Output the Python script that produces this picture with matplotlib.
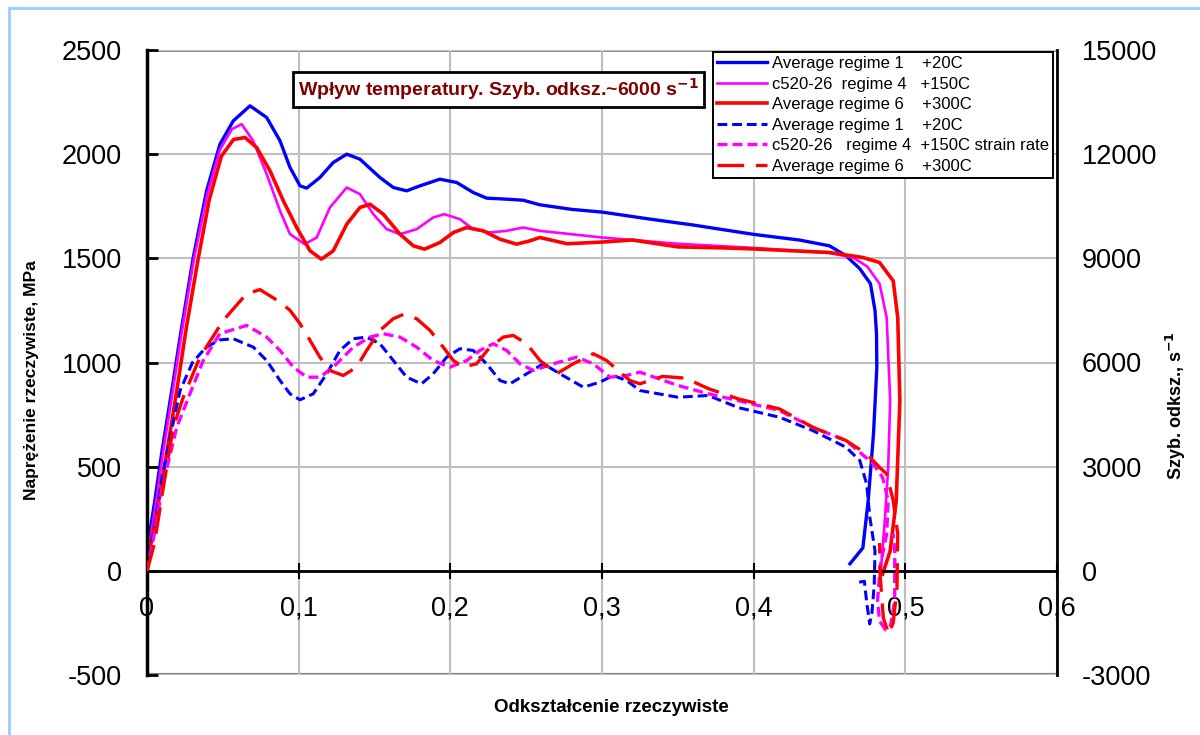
import matplotlib
matplotlib.use("Agg")
import matplotlib.pyplot as plt
from matplotlib.patches import Rectangle
from matplotlib.ticker import FuncFormatter

plt.rcParams['font.family'] = ['Liberation Sans', 'DejaVu Sans']
plt.rcParams['axes.unicode_minus'] = False

# naprezenie (MPa) vs odksztalcenie
blue_x = [0.0, 0.005, 0.010, 0.0163, 0.022, 0.0305, 0.0393, 0.0481, 0.0569, 0.0679,
          0.0789, 0.0877, 0.0943, 0.1009, 0.1053, 0.114, 0.1228, 0.1317, 0.1404, 0.1536,
          0.1624, 0.1712, 0.18, 0.1931, 0.2042, 0.2151, 0.2239, 0.2371, 0.248, 0.259,
          0.28, 0.30, 0.33, 0.36, 0.40, 0.43, 0.45, 0.461, 0.470, 0.477, 0.480, 0.481,
          0.4812, 0.480, 0.479, 0.4755, 0.472, 0.4635]
blue_y = [100, 330, 580, 864, 1130, 1504, 1824, 2048, 2160, 2232,
          2176, 2064, 1936, 1848, 1837, 1888, 1960, 2000, 1976, 1888,
          1840, 1824, 1848, 1880, 1864, 1816, 1789, 1784, 1779, 1757,
          1735, 1722, 1690, 1660, 1615, 1588, 1560, 1512, 1450, 1378, 1250, 1138,
          976, 800, 657, 336, 110, 34]

mag_x = [0.0, 0.005, 0.010, 0.017, 0.023, 0.031, 0.0395, 0.048, 0.056, 0.0624, 0.070,
         0.0789, 0.0877, 0.0943, 0.104, 0.1119, 0.1206, 0.1317, 0.1404, 0.1492, 0.158,
         0.1668, 0.1778, 0.1887, 0.196, 0.2063, 0.2151, 0.226, 0.2371, 0.248, 0.259,
         0.30, 0.35, 0.40, 0.45, 0.4655, 0.475, 0.483, 0.4877, 0.490, 0.4887, 0.4866, 0.484]
mag_y = [60, 280, 540, 864, 1150, 1500, 1800, 2020, 2120, 2144, 2064,
         1904, 1728, 1616, 1568, 1600, 1744, 1840, 1808, 1712, 1640,
         1616, 1640, 1696, 1712, 1688, 1640, 1624, 1632, 1648, 1632,
         1600, 1570, 1550, 1526, 1504, 1460, 1378, 1216, 816, 496, 256, 16]

red_x = [0.0, 0.006, 0.012, 0.0196, 0.026, 0.0338, 0.041, 0.049, 0.057, 0.0646, 0.0723,
         0.0811, 0.0899, 0.0987, 0.1075, 0.115, 0.1228, 0.1317, 0.1404, 0.147, 0.1558,
         0.1668, 0.1756, 0.183, 0.1931, 0.202, 0.2108, 0.2217, 0.2327, 0.2437, 0.2525,
         0.259, 0.277, 0.30, 0.32, 0.35, 0.38, 0.40, 0.45, 0.472, 0.483, 0.492, 0.495,
         0.4964, 0.494, 0.490, 0.485]
red_y = [30, 260, 520, 864, 1170, 1500, 1780, 1990, 2070, 2080, 2032,
         1920, 1776, 1648, 1536, 1496, 1536, 1664, 1744, 1760, 1712,
         1616, 1560, 1544, 1576, 1624, 1648, 1632, 1592, 1568, 1584,
         1600, 1570, 1578, 1588, 1555, 1550, 1545, 1528, 1504, 1480, 1392, 1216,
         816, 336, 96, -16]

# szybkosc odksztalcenia (1/s)
bd_x = [0.0, 0.005, 0.010, 0.016, 0.0218, 0.030, 0.039, 0.048, 0.0569, 0.0701, 0.0789,
        0.0877, 0.0943, 0.1009, 0.1096, 0.1185, 0.1272, 0.136, 0.1448, 0.1536, 0.1624,
        0.1712, 0.181, 0.1887, 0.1976, 0.2063, 0.2151, 0.2239, 0.2327, 0.2393, 0.2503,
        0.2613, 0.2723, 0.2877, 0.2986, 0.3074, 0.3162, 0.325, 0.35, 0.37, 0.39, 0.417,
        0.439, 0.461, 0.470, 0.4745, 0.4766, 0.480, 0.4795, 0.478, 0.4765, 0.4745, 0.473,
        0.4668]
bd_y = [0, 1300, 2700, 4000, 5193, 6000, 6442, 6650, 6684, 6442, 6058,
        5482, 5098, 4925, 5098, 5674, 6347, 6684, 6731, 6540, 6058,
        5577, 5386, 5674, 6154, 6396, 6347, 5963, 5482, 5386, 5674,
        5963, 5674, 5289, 5433, 5626, 5482, 5193, 5000, 5050, 4700, 4423,
        4039, 3557, 3174, 2501, 1538, 577, -400, -1200, -1530, -900, -300,
        -350]

md_x = [0.0, 0.005, 0.010, 0.0196, 0.0283, 0.0371, 0.048, 0.0657, 0.0789, 0.0877,
        0.0965, 0.1053, 0.114, 0.1228, 0.136, 0.147, 0.1558, 0.1668, 0.1778, 0.1887,
        0.1997, 0.2108, 0.2195, 0.2283, 0.2371, 0.2459, 0.2547, 0.2679, 0.2833, 0.2943,
        0.3052, 0.3162, 0.325, 0.35, 0.37, 0.39, 0.417, 0.439, 0.461, 0.4787, 0.485,
        0.4887, 0.4877, 0.4833, 0.4817, 0.483, 0.487, 0.490, 0.493, 0.493, 0.492]
md_y = [0, 1100, 2400, 4134, 5098, 6058, 6829, 7068, 6731, 6347,
        5866, 5577, 5577, 5866, 6442, 6731, 6829, 6731, 6442, 6058,
        5866, 6058, 6347, 6540, 6347, 5963, 5770, 5963, 6154, 5963,
        5577, 5626, 5722, 5340, 5100, 4900, 4616, 4134, 3750, 3087, 2692,
        2020, 1067, 96, -866, -1442, -1700, -1636, -866, 577, 1067]

rd_x = [0.0, 0.005, 0.010, 0.0173, 0.0239, 0.0349, 0.0503, 0.0657, 0.0745, 0.0877,
        0.0943, 0.1009, 0.1075, 0.114, 0.1206, 0.1294, 0.1382, 0.1448, 0.1536, 0.1624,
        0.169, 0.1778, 0.1866, 0.1953, 0.202, 0.2085, 0.2173, 0.2261, 0.2349, 0.2415,
        0.2503, 0.2591, 0.2701, 0.281, 0.2943, 0.303, 0.3184, 0.325, 0.34, 0.355, 0.37,
        0.39, 0.417, 0.439, 0.461, 0.4745, 0.483, 0.4877, 0.492, 0.495, 0.4945, 0.492,
        0.489, 0.4855, 0.4835, 0.483]
rd_y = [0, 800, 2200, 4134, 5000, 6154, 7212, 7982, 8098, 7741,
        7500, 7117, 6636, 6154, 5770, 5626, 5866, 6347, 6924, 7261,
        7385, 7261, 6924, 6442, 6058, 5866, 5963, 6442, 6731, 6780,
        6540, 6058, 5674, 5963, 6252, 6058, 5482, 5386, 5600, 5550, 5250,
        4950, 4664, 4134, 3750, 3366, 2980, 2790, 2020, 1067, -500, -1500,
        -1818, -1356, -200, 800]

labels = ["Average regime 1    +20C",
          "c520-26  regime 4   +150C",
          "Average regime 6    +300C",
          "Average regime 1    +20C",
          "c520-26   regime 4  +150C strain rate",
          "Average regime 6    +300C"]

BLUE, MAG, RED = "#0000ff", "#ff00ff", "#ff0000"

fig = plt.figure(figsize=(12, 7.35), dpi=100)
ax = fig.add_axes([147 / 1200, 1 - 675 / 735, 910 / 1200, 625 / 735])
ax2 = ax.twinx()

l1, = ax.plot(blue_x, blue_y, color=BLUE, lw=2.4)
l2, = ax.plot(mag_x, mag_y, color=MAG, lw=1.9)
l3, = ax.plot(red_x, red_y, color=RED, lw=2.6)

l4, = ax2.plot(bd_x, bd_y, color=BLUE, lw=2.2, dashes=(3.2, 1.6))
l5, = ax2.plot(md_x, md_y, color=MAG, lw=2.4, dashes=(3.0, 1.5))
l6, = ax2.plot(rd_x, rd_y, color=RED, lw=2.4, dashes=(8, 3.5))

ax.set_xlim(0, 0.6)
ax.set_ylim(-500, 2500)
ax2.set_ylim(-3000, 15000)
ax.set_xticks([0, 0.1, 0.2, 0.3, 0.4, 0.5, 0.6])
ax.set_yticks(range(-500, 2501, 500))
ax2.set_yticks(range(-3000, 15001, 3000))
ax.xaxis.set_major_formatter(FuncFormatter(lambda v, p: f"{v:.1f}".replace(".", ",") if v else "0"))

ax.grid(True, color="#bfbfbf", lw=1.5)
ax.set_axisbelow(True)

ax.spines['bottom'].set_position(('data', 0))
ax.spines['bottom'].set_linewidth(2)
ax.spines['left'].set_linewidth(2.5)
ax.spines['top'].set_visible(False)
ax.spines['right'].set_visible(False)
ax.axhline(-500, color="#808080", lw=3, zorder=0.5)
ax.axhline(2500, color="#808080", lw=2, zorder=0.5)
for s in ['top', 'bottom', 'left']:
    ax2.spines[s].set_visible(False)
ax2.spines['right'].set_linewidth(2)

ax.tick_params(axis='x', direction='inout', length=12, width=1.5, labelsize=19.5, pad=12)
ax.tick_params(axis='y', direction='in', length=8, width=2, labelsize=19.5, pad=18)
ax2.tick_params(axis='y', direction='in', length=0, labelsize=19.5, pad=18)

fig.text(32 / 1200, 1 - 380 / 735, "Naprężenie rzeczywiste, MPa", rotation=90,
         ha='center', va='center', fontsize=12.5, fontweight='bold')
fig.text(611 / 1200, 1 - 707 / 735, "Odkształcenie rzeczywiste",
         ha='center', va='center', fontsize=13.5, fontweight='bold')
fig.text(1176 / 1200, 1 - 406 / 735, "Szyb. odksz., s$^{\\mathbf{-1}}$", rotation=90,
         ha='center', va='center', fontsize=13, fontweight='bold')

fig.text(298 / 1200, 1 - 89.5 / 735, "Wpływ temperatury. Szyb. odksz.~6000 s$^{\\mathbf{-1}}$",
         ha='left', va='center', fontsize=14, fontweight='bold', color="#800000",
         bbox=dict(boxstyle='square,pad=0.25', facecolor='white', edgecolor='black', lw=2))

leg = ax2.legend([l1, l2, l3, l4, l5, l6], labels, loc='upper right',
                 bbox_to_anchor=(1053 / 1200, 1 - 52 / 735), bbox_transform=fig.transFigure,
                 fontsize=12, frameon=True, fancybox=False, edgecolor='black',
                 framealpha=1, borderpad=0.25, labelspacing=0.33, handlelength=3.0,
                 handletextpad=0.3, borderaxespad=0)
leg.get_frame().set_linewidth(1.4)

fig.patches.append(Rectangle((9 / 1200, -0.1), 1.2, 1 - 8 / 735 + 0.1, transform=fig.transFigure,
                             fill=False, edgecolor="#99ccff", lw=2))

fig.savefig("out.png", dpi=100)
